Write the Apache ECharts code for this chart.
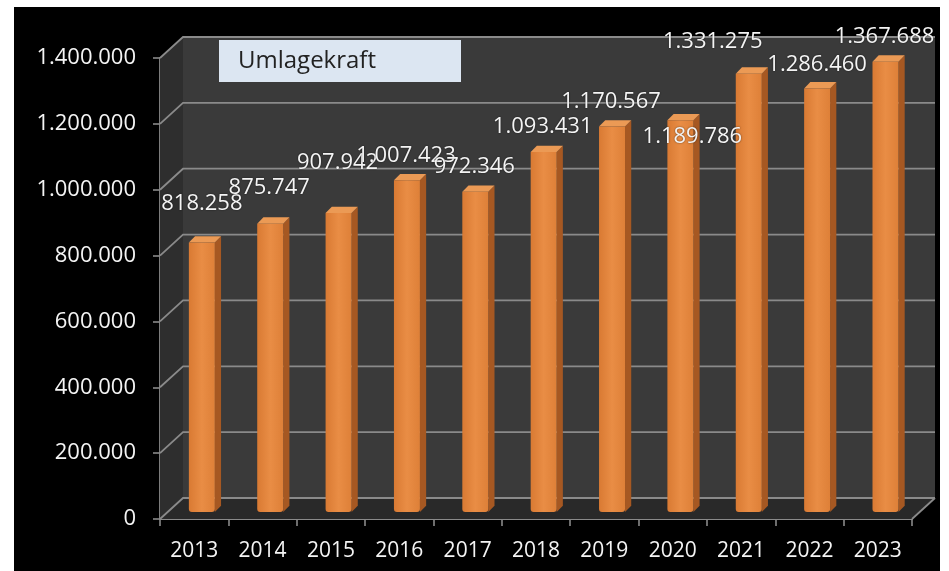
<!DOCTYPE html>
<html><head><meta charset="utf-8">
<script src="https://cdn.jsdelivr.net/npm/echarts@6/dist/echarts.min.js"></script>
<style>
html,body{margin:0;padding:0;background:#fff;width:949px;height:571px;overflow:hidden}
#c{position:absolute;left:14px;top:7px;width:926px;height:564px;background:#000}
</style></head><body><div id="c"></div>
<script>
const years = ['2013','2014','2015','2016','2017','2018','2019','2020','2021','2022','2023'];
const values = [818258, 875747, 907942, 1007423, 972346, 1093431, 1170567, 1189786, 1331275, 1286460, 1367688];
const yTicks = [0, 200000, 400000, 600000, 800000, 1000000, 1200000, 1400000];
const seriesName = 'Umlagekraft';
// label nudges relative to bar top (style only)
const labelOffsets = [[0,-39],[-1,-36],[-1,-50],[-1,-25],[-1,-25],[-1,-25],[-1,-25],[12,17],[-36,-32],[0,-24],[-1,-25]];

function fmt(v){ return String(v).replace(/\B(?=(\d{3})+(?!\d))/g, '.'); }
const DX = 23, DY = -21;
const GRID = '#8a8a8a';
const FONT = '"Open Sans", sans-serif';

function renderFrame(params, api){
  const cs = params.coordSys;
  const x0 = cs.x, x1 = cs.x + cs.width;
  const yBot = api.coord([0, yTicks[0]])[1];
  const yTop = api.coord([0, yTicks[yTicks.length-1]])[1];
  const ch = [];
  ch.push({type:'polygon', shape:{points:[[x0+DX,yTop+DY],[x1+DX,yTop+DY],[x1+DX,yBot+DY],[x0+DX,yBot+DY]]}, style:{fill:'#3a3a3a'}});
  ch.push({type:'polygon', shape:{points:[[x0,yTop],[x0+DX,yTop+DY],[x0+DX,yBot+DY],[x0,yBot]]}, style:{fill:'#2e2e2e'}});
  ch.push({type:'polygon', shape:{points:[[x0,yBot],[x0+DX,yBot+DY],[x1+DX,yBot+DY],[x1,yBot]]}, style:{fill:'#292929'}});
  yTicks.forEach(function(t){
    const y = api.coord([0, t])[1];
    ch.push({type:'polyline', shape:{points:[[x0,y],[x0+DX,y+DY],[x1+DX,y+DY]]}, style:{stroke:GRID, lineWidth:1.8, fill:null}});
  });
  ch.push({type:'line', shape:{x1:x1,y1:yBot,x2:x1+DX,y2:yBot+DY}, style:{stroke:GRID, lineWidth:1.8}});
  return {type:'group', children:ch};
}

function renderBar(params, api){
  const i = api.value(0), v = api.value(1);
  const top = api.coord([i, v]), base = api.coord([i, 0]);
  const bw = api.size([1, 0])[0] * 0.38;
  const fx = DX/3, fy = DY/3, sdx = DX*0.27, sdy = DY*0.3;
  const xl = top[0] - bw/2 + fx, xr = top[0] + bw/2 + fx;
  const yt = top[1] + fy, yb = base[1] + fy;
  const off = labelOffsets[params.dataIndex];
  return {type:'group', children:[
    {type:'polygon', shape:{points:[[xr,yt],[xr+sdx,yt+sdy],[xr+sdx,yb+sdy],[xr,yb]]}, style:{fill:'#a65822'}},
    {type:'polygon', shape:{points:[[xl,yt],[xl+sdx,yt+sdy],[xr+sdx,yt+sdy],[xr,yt]]}, style:{fill:'#eb9a55'}},
    {type:'rect', shape:{x:xl, y:yt, width:bw, height:yb-yt, r:[0,0,3,3]}, style:{fill:new echarts.graphic.LinearGradient(0,0,1,0,[{offset:0,color:'#d97a33'},{offset:0.5,color:'#e98d45'},{offset:1,color:'#de8038'}])}},
    {type:'text', z2:100, x:(xl+xr)/2 + off[0], y:yt + off[1], style:{text:fmt(v), fill:'#f4f4f4', font:'22px ' + FONT, align:'center', verticalAlign:'middle', textShadowColor:'rgba(0,0,0,0.6)', textShadowBlur:2}}
  ]};
}

const chart = echarts.init(document.getElementById('c'), null, {renderer:'canvas'});
chart.setOption({
  animation:false,
  backgroundColor:'#000',
  title:{text:seriesName, left:205, top:33, backgroundColor:'#dce6f2', padding:[9,85,9,19],
    textStyle:{color:'#222', fontSize:24, fontWeight:'normal', fontFamily:FONT}},
  grid:{left:146, top:51, width:752, height:461},
  xAxis:{type:'category', data:years, boundaryGap:true,
    axisLine:{show:true, lineStyle:{color:GRID, width:1.8}},
    axisTick:{show:true, alignWithLabel:false, length:7, lineStyle:{color:GRID, width:1.6}},
    axisLabel:{color:'#f4f4f4', fontSize:21, fontFamily:FONT, margin:22},
    splitLine:{show:false}},
  yAxis:{type:'value', min:0, max:1400000, interval:200000,
    axisLine:{show:true, lineStyle:{color:GRID, width:1.8}},
    axisTick:{show:true, length:7, lineStyle:{color:GRID, width:1.6}},
    axisLabel:{color:'#f4f4f4', fontSize:22, fontFamily:FONT, margin:24, formatter:fmt},
    splitLine:{show:false}},
  series:[
    {type:'custom', name:'frame', silent:true, z:1, renderItem:renderFrame, data:[[0,0]]},
    {type:'custom', name:seriesName, z:2, renderItem:renderBar, encode:{x:0,y:1},
      data:values.map(function(v,i){return [i,v];})}
  ]
});
</script></body></html>
